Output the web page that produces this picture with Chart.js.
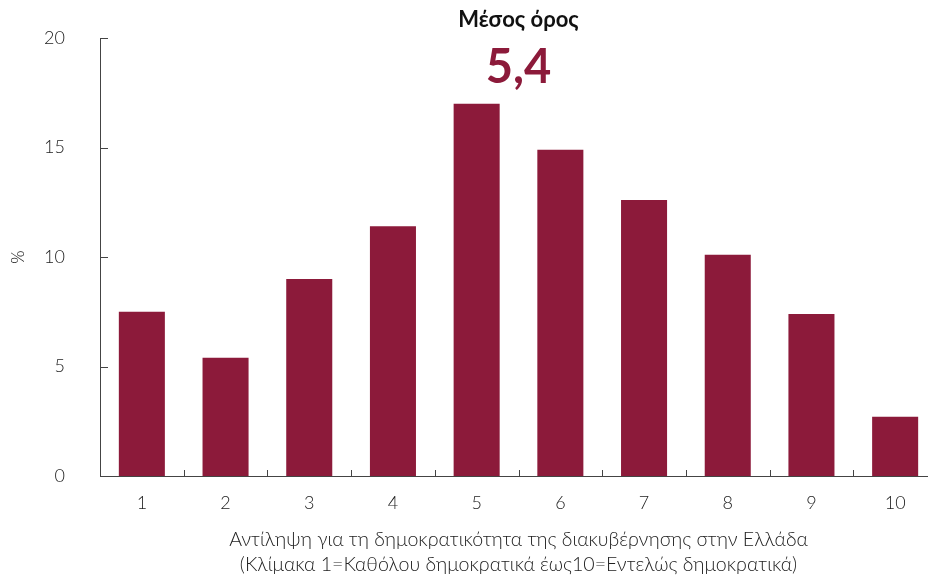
<!DOCTYPE html>
<html><head><meta charset="utf-8">
<script src="https://cdn.jsdelivr.net/npm/chart.js@4"></script>
<style>
html,body{margin:0;padding:0;background:#fff;overflow:hidden;}
#wrap{width:937px;height:577px;position:relative;}
</style></head>
<body>
<div id="wrap"><canvas id="c"></canvas></div>
<script>
const categories = ['1','2','3','4','5','6','7','8','9','10'];
const values = [7.5, 5.4, 9.0, 11.4, 17.0, 14.9, 12.6, 10.1, 7.4, 2.7];
const yTicks = [0, 5, 10, 15, 20];
const meanLabel = 'Μέσος όρος';
const meanValue = '5,4';
const yTitle = '%';
const xTitle = ['Αντίληψη για τη δημοκρατικότητα της διακυβέρνησης στην Ελλάδα',
                '(Κλίμακα 1=Καθόλου δημοκρατικά έως10=Εντελώς δημοκρατικά)'];

const BAR = '#8c1a3a';
const AXIS = '#444';
const FONT = 'Lato, "Noto Sans", sans-serif';

const decor = {
  id: 'decor',
  afterDraw(chart) {
    const {ctx, chartArea: a, scales: {x, y}} = chart;
    ctx.save();
    ctx.strokeStyle = AXIS;
    ctx.lineWidth = 1;
    yTicks.forEach(v => {
      const py = Math.round(y.getPixelForValue(v)) + 0.5;
      ctx.beginPath(); ctx.moveTo(a.left, py); ctx.lineTo(a.left + 8, py); ctx.stroke();
    });
    for (let i = 0; i < categories.length - 1; i++) {
      const px = Math.round((x.getPixelForValue(i) + x.getPixelForValue(i + 1)) / 2) + 0.5;
      ctx.beginPath(); ctx.moveTo(px, a.bottom); ctx.lineTo(px, a.bottom - 6); ctx.stroke();
    }
    const cx = (a.left + a.right) / 2;
    ctx.textAlign = 'center';
    ctx.textBaseline = 'middle';
    ctx.fillStyle = '#111';
    ctx.font = 'bold 22px ' + FONT;
    ctx.fillText(meanLabel, cx, 20);
    ctx.fillStyle = BAR;
    ctx.font = 'bold 47px ' + FONT;
    ctx.fillText(meanValue, cx, 68);
    ctx.restore();
  }
};

new Chart(document.getElementById('c'), {
  type: 'bar',
  data: {
    labels: categories,
    datasets: [{ data: values, backgroundColor: BAR, barPercentage: 0.55, categoryPercentage: 1.0 }]
  },
  options: {
    responsive: true,
    maintainAspectRatio: false,
    animation: false,
    layout: { padding: { top: 38, right: 0, bottom: 0, left: 0 } },
    plugins: { legend: { display: false }, tooltip: { enabled: false } },
    scales: {
      x: {
        offset: true,
        grid: { display: false, drawTicks: false },
        border: { display: true, color: AXIS, width: 1 },
        ticks: { color: '#222', font: { family: FONT, size: 18, weight: 300 }, padding: 16, maxRotation: 0 },
        title: { display: true, text: xTitle, color: '#222', font: { family: FONT, size: 19.6, weight: 300, lineHeight: '25px' }, padding: { top: 0, bottom: 0 } },
        afterFit: s => { s.height = 101; s.paddingLeft = 0; s.paddingRight = 0; }
      },
      y: {
        min: 0, max: 20,
        afterBuildTicks: s => { s.ticks = yTicks.map(v => ({ value: v })); },
        grid: { display: false, drawTicks: false },
        border: { display: true, color: AXIS, width: 1 },
        ticks: { color: '#222', font: { family: FONT, size: 18, weight: 300 }, padding: 35 },
        title: { display: true, text: yTitle, color: '#222', font: { family: FONT, size: 17, weight: 300 }, padding: { top: 8, bottom: 0 } },
        afterFit: s => { s.width = 100; s.paddingTop = 0; s.paddingBottom = 0; }
      }
    }
  },
  plugins: [decor]
});
</script>
</body></html>
